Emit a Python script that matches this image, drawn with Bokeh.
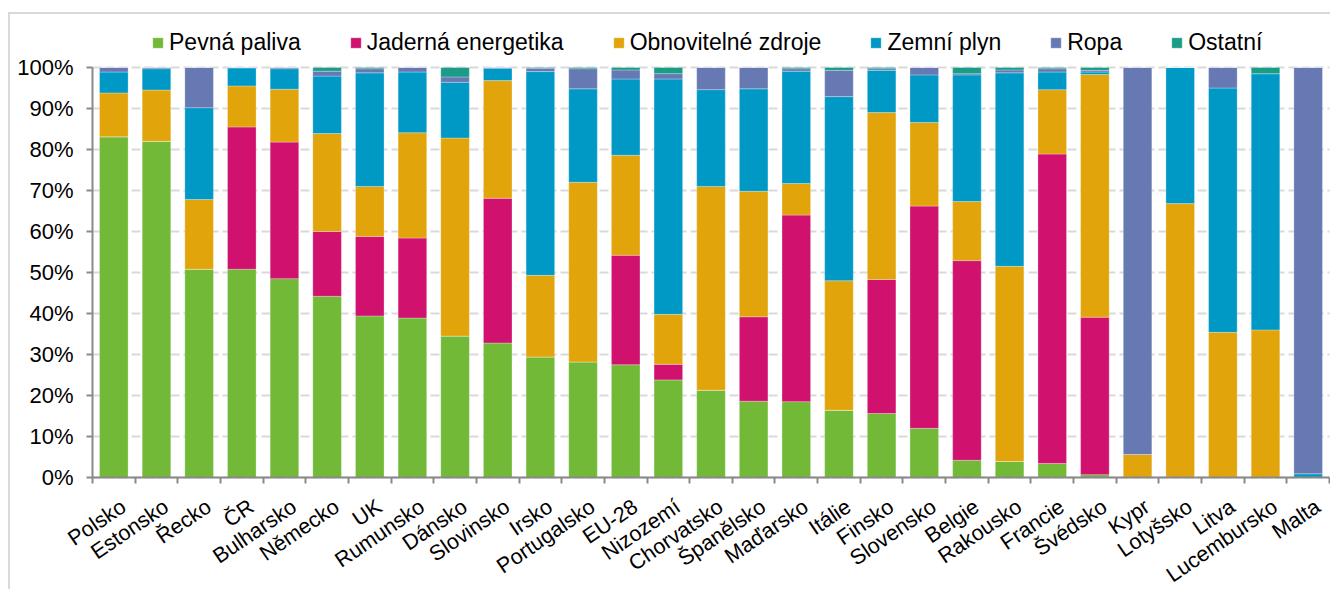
from bokeh.plotting import figure
from bokeh.models import ColumnDataSource, FixedTicker, PrintfTickFormatter, Range1d, Legend
from bokeh.core.properties import value
from bokeh.embed import file_html
from bokeh.resources import INLINE

countries = ["Polsko", "Estonsko", "Řecko", "ČR", "Bulharsko", "Německo", "UK", "Rumunsko",
             "Dánsko", "Slovinsko", "Irsko", "Portugalsko", "EU-28", "Nizozemí", "Chorvatsko",
             "Španělsko", "Maďarsko", "Itálie", "Finsko", "Slovensko", "Belgie", "Rakousko",
             "Francie", "Švédsko", "Kypr", "Lotyšsko", "Litva", "Lucembursko", "Malta"]

pevna_paliva = [83.1, 82.0, 50.8, 50.8, 48.5, 44.2, 39.4, 38.9, 34.5, 32.8, 29.4, 28.2, 27.5, 23.8, 21.3,
                18.6, 18.5, 16.4, 15.6, 12.0, 4.2, 3.9, 3.4, 0.7, 0, 0, 0, 0, 0]
jaderna = [0, 0, 0, 34.7, 33.3, 15.8, 19.4, 19.5, 0, 35.3, 0, 0, 26.7, 3.8, 0,
           20.6, 45.5, 0, 32.7, 54.2, 48.7, 0, 75.5, 38.4, 0, 0, 0, 0, 0]
obnovitelne = [10.7, 12.5, 17.0, 10.0, 12.9, 23.9, 12.2, 25.7, 48.3, 28.7, 19.9, 43.8, 24.4, 12.2, 49.7,
               30.6, 7.7, 31.6, 40.7, 20.4, 14.4, 47.6, 15.7, 59.2, 5.6, 66.8, 35.4, 36.0, 0]
zemni_plyn = [5.1, 5.2, 22.4, 4.4, 5.0, 14.0, 27.7, 14.8, 13.6, 3.0, 49.7, 22.8, 18.6, 57.4, 23.6,
              25.0, 27.4, 44.9, 10.3, 11.6, 30.9, 47.2, 4.3, 0.6, 0, 33.2, 59.6, 62.5, 0.9]
ropa = [1.1, 0.3, 9.8, 0.1, 0.3, 1.2, 1.0, 1.1, 1.3, 0.2, 0.8, 4.9, 2.2, 1.3, 5.4,
        5.2, 0.6, 6.4, 0.4, 1.8, 0.3, 0.7, 0.8, 0.4, 94.4, 0, 5.0, 0, 99.1]
ostatni = [0, 0, 0, 0, 0, 0.9, 0.3, 0, 2.3, 0, 0.2, 0.3, 0.6, 1.5, 0,
           0, 0.3, 0.7, 0.3, 0, 1.5, 0.6, 0.3, 0.7, 0, 0, 0, 1.5, 0]

y_ticks = list(range(0, 101, 10))

series = ["pevna", "jaderna", "obnov", "plyn", "ropa", "ostatni"]
labels = ["Pevná paliva", "Jaderná energetika", "Obnovitelné zdroje", "Zemní plyn", "Ropa", "Ostatní"]
colors = ["#71B936", "#D0126E", "#E1A40A", "#0099C6", "#6779B3", "#1A9C86"]

n = len(countries)
xs = list(range(n))
source = ColumnDataSource(dict(x=xs, name=countries, base=[0] * n,
                               pevna=pevna_paliva, jaderna=jaderna, obnov=obnovitelne,
                               plyn=zemni_plyn, ropa=ropa, ostatni=ostatni))

FONT = "Liberation Sans"

# Page layout: plot area starts at (10, 14) after margin + border and fills the rest.
# 0% at y=477, 100% at y=67; first category edge at x=92, last at x=1329.
PX_Y = 4.1
PX_X = (1329 - 92) / n
FIG_W, FIG_H = 1322, 577
x_lo = -0.5 - (92 - 10) / PX_X
x_hi = n - 0.5 + (1332 - 1329) / PX_X
y_hi = 100 + (67 - 14) / PX_Y
y_lo = -(591 - 477) / PX_Y

p = figure(width=FIG_W, height=FIG_H, output_backend="svg", toolbar_location=None,
           x_range=Range1d(x_lo, x_hi), y_range=Range1d(y_lo, y_hi),
           min_border_left=0, min_border_right=0, min_border_top=0, min_border_bottom=0)
p.outline_line_color = None
p.styles = {"margin-left": "8px", "margin-top": "12px",
            "border-left": "2px solid #d9d9d9", "border-top": "2px solid #d9d9d9"}

# grid lines only across the category area
try:
    p.ygrid.cross_bounds = (-0.5, n - 0.5)
    p.ygrid.ticker = FixedTicker(ticks=y_ticks)
    p.ygrid.grid_line_color = "#d9d9d9"
    p.ygrid.grid_line_width = 2
    p.ygrid.grid_line_dash = "9 4"
except AttributeError:
    p.ygrid.grid_line_color = None
    p.segment(x0=[-0.5] * len(y_ticks), x1=[n - 0.5] * len(y_ticks), y0=y_ticks, y1=y_ticks,
              line_color="#d9d9d9", line_width=2, line_dash="9 4")
p.xgrid.grid_line_color = None

renderers = p.vbar_stack(series, x="x", width=0.67, source=source, color=colors,
                         line_color="white", line_alpha=0.35, line_width=0.8)

# category labels, rotated, hanging below the baseline
p.text(x="x", y="base", text="name", source=source, angle=0.60,
       text_align="right", text_baseline="top", x_offset=3, y_offset=17,
       text_font=value(FONT), text_font_size="21.5px", text_color="#000000")

legend = Legend(items=[(lab, [r]) for lab, r in zip(labels, renderers)],
                orientation="horizontal", location=(141, 535),
                label_text_font=FONT, label_text_font_size="23px", label_text_color="#000000",
                glyph_width=13, glyph_height=13, label_standoff=5, spacing=48,
                padding=2, margin=0, border_line_color=None, background_fill_alpha=0)
p.add_layout(legend, "center")

# y axis, drawn at the left edge of the first category
p.yaxis.fixed_location = -0.5
p.yaxis.ticker = FixedTicker(ticks=y_ticks)
p.yaxis.bounds = (0, 100)
p.yaxis.formatter = PrintfTickFormatter(format="%d%%")
p.yaxis.major_label_text_font = FONT
p.yaxis.major_label_text_font_size = "22px"
p.yaxis.major_label_text_color = "#000000"
p.yaxis.axis_line_color = "#898989"
p.yaxis.axis_line_width = 2
p.yaxis.major_tick_line_color = "#898989"
p.yaxis.major_tick_line_width = 2
p.yaxis.major_tick_out = 6
p.yaxis.major_tick_in = 0
p.yaxis.minor_tick_line_color = None
p.yaxis.major_label_standoff = 13

# x axis at 0 %, tick marks between bars
p.xaxis.fixed_location = 0
p.xaxis.bounds = (-0.5, n - 0.5)
p.xaxis.ticker = FixedTicker(ticks=xs, minor_ticks=[i - 0.5 for i in range(n + 1)])
p.xaxis.major_label_overrides = {i: "" for i in xs}
p.xaxis.major_label_text_font_size = "0px"
p.xaxis.major_label_standoff = 0
p.xaxis.major_tick_line_color = None
p.xaxis.major_tick_out = 0
p.xaxis.major_tick_in = 0
p.xaxis.minor_tick_line_color = "#898989"
p.xaxis.minor_tick_line_width = 2
p.xaxis.minor_tick_out = 6
p.xaxis.minor_tick_in = 0
p.xaxis.axis_line_color = "#898989"
p.xaxis.axis_line_width = 2

open("out.html", "w").write(file_html(p, INLINE))
